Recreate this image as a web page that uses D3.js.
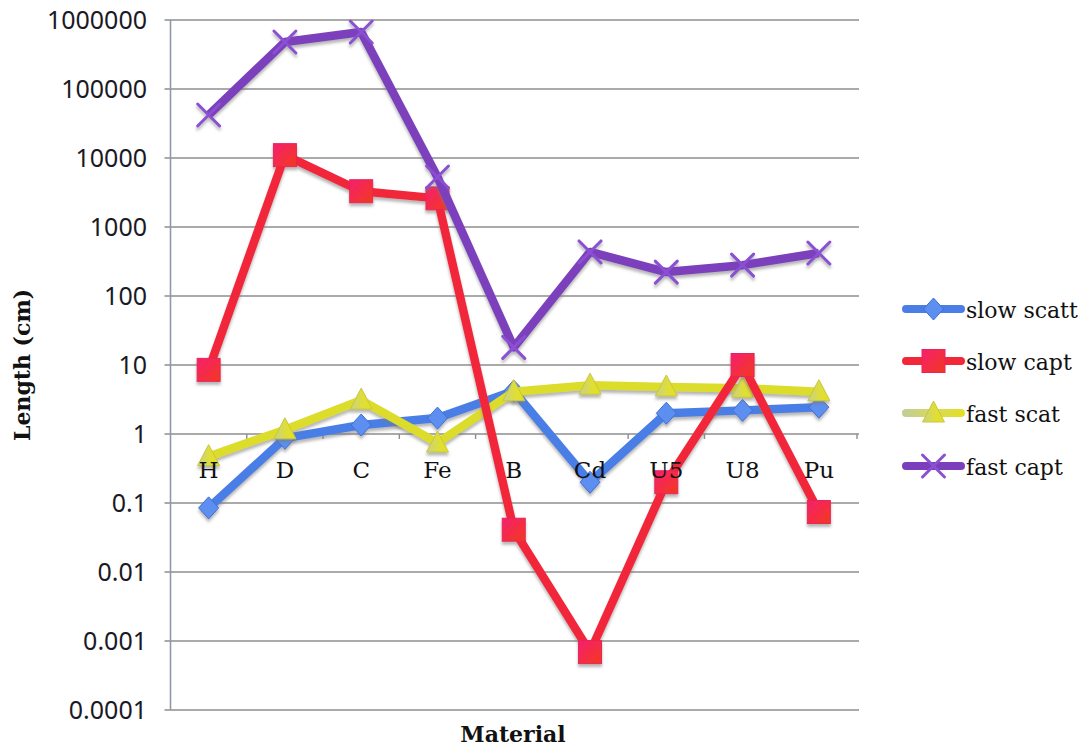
<!DOCTYPE html>
<html>
<head>
<meta charset="utf-8">
<script src="https://cdn.jsdelivr.net/npm/d3@7"></script>
<style>
  html, body { margin: 0; padding: 0; background: #ffffff; }
  svg { display: block; }
</style>
</head>
<body>
<svg id="chart" width="1088" height="751"></svg>
<script>
// Materials along the category axis
const categories = ["H", "D", "C", "Fe", "B", "Cd", "U5", "U8", "Pu"];

// Lengths in cm for each material
const slowScatt = [0.085, 0.87, 1.35, 1.7, 4.2, 0.2, 2.0, 2.2, 2.45];
const slowCapt  = [8.5, 11000, 3300, 2600, 0.041, 0.00069, 0.2, 10, 0.074];
const fastScat  = [0.47, 1.15, 3.1, 0.74, 4.1, 5.1, 4.8, 4.6, 4.1];
const fastCapt  = [42000, 480000, 670000, 5300, 18, 435, 222, 280, 420];

const seriesNames = ["slow scatt", "slow capt", "fast scat", "fast capt"];

// Log-axis tick values and their printed labels
const tickValues = [1e-4, 1e-3, 1e-2, 1e-1, 1, 10, 100, 1000, 10000, 100000, 1000000];
const tickLabels = ["0.0001", "0.001", "0.01", "0.1", "1", "10", "100", "1000", "10000", "100000", "1000000"];

const svg = d3.select("#chart");

const plot = { left: 170.5, right: 857, top: 20, bottom: 710 };

const x = d3.scaleBand().domain(categories).range([plot.left, plot.right]);
const y = d3.scaleLog().domain([1e-4, 1e6]).range([plot.bottom, plot.top]);
const cx = c => x(c) + x.bandwidth() / 2;

// ---- defs: marker shadow + gradients
const defs = svg.append("defs");
const shadow = defs.append("filter").attr("id", "shadow")
  .attr("x", "-30%").attr("y", "-30%").attr("width", "160%").attr("height", "170%");
shadow.append("feDropShadow").attr("dx", 0).attr("dy", 3).attr("stdDeviation", 1.6)
  .attr("flood-color", "#7a7a7a").attr("flood-opacity", 0.55);

const redGrad = defs.append("linearGradient").attr("id", "redGrad")
  .attr("x1", "0").attr("y1", "0").attr("x2", "1").attr("y2", "1");
redGrad.append("stop").attr("offset", "0%").attr("stop-color", "#f5206f");
redGrad.append("stop").attr("offset", "100%").attr("stop-color", "#f3381e");

const yelGrad = defs.append("linearGradient").attr("id", "yelGrad")
  .attr("x1", "0").attr("y1", "0").attr("x2", "1").attr("y2", "0");
yelGrad.append("stop").attr("offset", "0%").attr("stop-color", "#c9cf8a");
yelGrad.append("stop").attr("offset", "55%").attr("stop-color", "#dede3a");
yelGrad.append("stop").attr("offset", "100%").attr("stop-color", "#e4e01e");

// legend swatch gradient in user space (a flat line has no bounding-box height)
const yelLegend = defs.append("linearGradient").attr("id", "yelLegend")
  .attr("gradientUnits", "userSpaceOnUse")
  .attr("x1", 902).attr("y1", 0).attr("x2", 965).attr("y2", 0);
yelLegend.append("stop").attr("offset", "0%").attr("stop-color", "#c3cc98");
yelLegend.append("stop").attr("offset", "50%").attr("stop-color", "#d6da60");
yelLegend.append("stop").attr("offset", "100%").attr("stop-color", "#e2e020");

// ---- horizontal gridlines
svg.append("g")
  .selectAll("line")
  .data(tickValues)
  .join("line")
  .attr("x1", plot.left - 6).attr("x2", plot.right + 2)
  .attr("y1", d => y(d)).attr("y2", d => y(d))
  .attr("stroke", "#8e8e8e").attr("stroke-width", 1.6);

// value axis line
svg.append("line")
  .attr("x1", plot.left).attr("x2", plot.left)
  .attr("y1", plot.top).attr("y2", plot.bottom)
  .attr("stroke", "#8e9aa8").attr("stroke-width", 1.6);

// category axis crosses at 1: small tick marks between categories
const boundaries = categories.slice(1).map(c => x(c)).concat([plot.right]);
svg.append("g")
  .selectAll("line")
  .data(boundaries)
  .join("line")
  .attr("x1", d => d).attr("x2", d => d)
  .attr("y1", y(1)).attr("y2", y(1) + 5)
  .attr("stroke", "#8e8e8e").attr("stroke-width", 1.4);

// value tick labels
svg.append("g")
  .selectAll("text")
  .data(tickValues)
  .join("text")
  .attr("x", 147).attr("y", d => y(d))
  .attr("dy", "0.36em")
  .attr("text-anchor", "end")
  .attr("font-family", "'Noto Sans', 'Open Sans', sans-serif")
  .attr("font-size", 25)
  .attr("fill", "#1a1a26")
  .text((d, i) => tickLabels[i]);

// axis titles
svg.append("text")
  .attr("transform", `translate(30,${(plot.top + plot.bottom) / 2}) rotate(-90)`)
  .attr("text-anchor", "middle")
  .attr("font-family", "'DejaVu Serif', 'Liberation Serif', serif")
  .attr("font-weight", "bold")
  .attr("font-size", 22)
  .attr("fill", "#111")
  .text("Length (cm)");

svg.append("text")
  .attr("x", 513).attr("y", 742)
  .attr("text-anchor", "middle")
  .attr("font-family", "'DejaVu Serif', 'Liberation Serif', serif")
  .attr("font-weight", "bold")
  .attr("font-size", 22)
  .attr("fill", "#111")
  .text("Material");

// ---- marker shapes
function drawMarker(g, kind, px, py, style) {
  if (kind === "diamond") {
    g.append("path")
      .attr("d", `M${px},${py - 11}L${px + 10},${py}L${px},${py + 11}L${px - 10},${py}Z`)
      .attr("fill", style.fill).attr("stroke", style.edge).attr("stroke-width", 1);
  } else if (kind === "square") {
    g.append("rect")
      .attr("x", px - 11.5).attr("y", py - 11.5).attr("width", 23).attr("height", 23)
      .attr("fill", style.fill).attr("stroke", style.edge).attr("stroke-width", 1);
  } else if (kind === "triangle") {
    g.append("path")
      .attr("d", `M${px},${py - 12}L${px + 11},${py + 9}L${px - 11},${py + 9}Z`)
      .attr("fill", style.fill).attr("stroke", style.edge).attr("stroke-width", 1);
  } else if (kind === "cross") {
    g.append("path")
      .attr("d", `M${px - 11},${py - 11}L${px + 11},${py + 11}M${px + 11},${py - 11}L${px - 11},${py + 11}`)
      .attr("fill", "none").attr("stroke", style.fill).attr("stroke-width", 3)
      .attr("stroke-linecap", "round");
  }
}

const series = [
  { name: seriesNames[0], values: slowScatt, line: "#4a7ee6", fill: "#5d8ff0", edge: "#3f6fd6", kind: "diamond" },
  { name: seriesNames[2], values: fastScat,  line: "#dcdc2c", fill: "url(#yelGrad)", edge: "#c9c83a", kind: "triangle" },
  { name: seriesNames[1], values: slowCapt,  line: "#f2283a", fill: "url(#redGrad)", edge: "#e8245a", kind: "square" },
  { name: seriesNames[3], values: fastCapt,  line: "#7b3fbc", fill: "#8a4fd2", edge: "#7b3fbc", kind: "cross" }
];

const lineGen = d3.line().x(d => cx(d.c)).y(d => y(d.v));

series.forEach(s => {
  const pts = categories.map((c, i) => ({ c, v: s.values[i] }));
  const g = svg.append("g").attr("filter", "url(#shadow)");
  g.append("path")
    .attr("d", lineGen(pts))
    .attr("fill", "none")
    .attr("stroke", s.line)
    .attr("stroke-width", 8.5)
    .attr("stroke-linejoin", "round");
  pts.forEach(p => drawMarker(g, s.kind, cx(p.c), y(p.v), s));
});

// category labels just below the value-1 line, on top of the series
svg.append("g")
  .selectAll("text")
  .data(categories)
  .join("text")
  .attr("x", d => cx(d)).attr("y", y(1) + 44)
  .attr("text-anchor", "middle")
  .attr("font-family", "'DejaVu Serif', 'Liberation Serif', serif")
  .attr("font-size", 23)
  .attr("fill", "#111")
  .text(d => d);

// ---- legend
const legendOrder = [series[0], series[2], series[1], series[3]];
const legendY = [309, 361, 413, 466];
legendOrder.forEach((s, i) => {
  const g = svg.append("g");
  const ly = legendY[i];
  g.append("line")
    .attr("x1", 906).attr("x2", 961)
    .attr("y1", ly).attr("y2", ly)
    .attr("stroke", s.kind === "triangle" ? "url(#yelLegend)" : s.line)
    .attr("stroke-width", 8)
    .attr("stroke-linecap", "round");
  drawMarker(g, s.kind, 933.5, ly, s);
  g.append("text")
    .attr("x", 966).attr("y", ly)
    .attr("dy", "0.42em")
    .attr("font-family", "'DejaVu Serif', 'Liberation Serif', serif")
    .attr("font-size", 22)
    .attr("fill", "#111")
    .text(s.name);
});
</script>
</body>
</html>
